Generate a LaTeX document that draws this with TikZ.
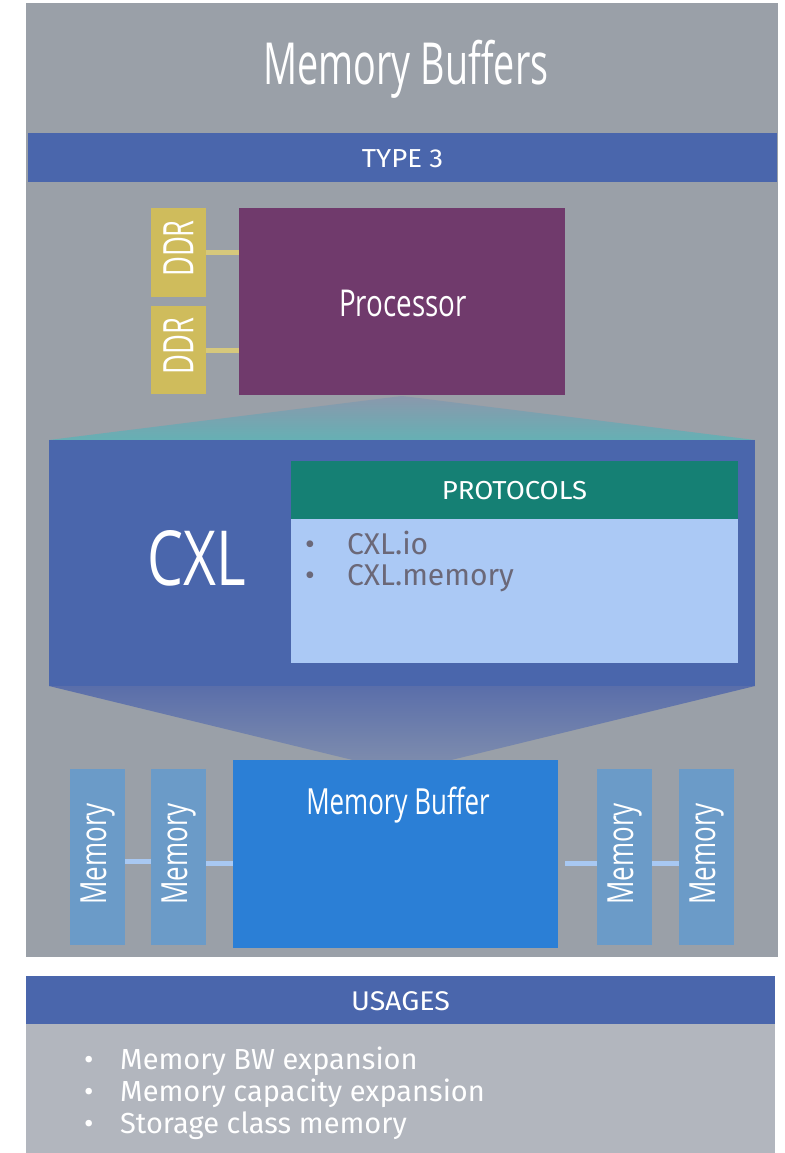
\documentclass[tikz,border=0pt]{standalone}
\usepackage{fontspec}
\setmainfont{Fira Sans}
\newfontfamily\din{Fira Sans}
\newfontfamily\dinw[FakeStretch=1.06]{Fira Sans}
\newfontfamily\cond[FakeStretch=0.65]{Open Sans}
\newfontfamily\condm[FakeStretch=0.72]{Open Sans}
\newfontfamily\condw[FakeStretch=0.75]{Open Sans}
\usetikzlibrary{positioning}
\definecolor{panel}{HTML}{9AA0A8}
\definecolor{barblue}{HTML}{4A66AC}
\definecolor{ddr}{HTML}{CFBC5C}
\definecolor{ddrline}{HTML}{D6C87C}
\definecolor{proc}{HTML}{703A6C}
\definecolor{protohead}{HTML}{158074}
\definecolor{protobody}{HTML}{ABC9F5}
\definecolor{prototext}{HTML}{6B6878}
\definecolor{membuf}{HTML}{2B7FD6}
\definecolor{memstick}{HTML}{6B9BC8}
\definecolor{memline}{HTML}{A8C8F2}
\definecolor{usebody}{HTML}{B2B6BE}
\definecolor{teal}{HTML}{66B0B4}
\definecolor{funtop}{HTML}{8A98AC}
\definecolor{funblue}{HTML}{5A6EAA}
\definecolor{funbot}{HTML}{8290AE}
\tikzset{
  blk/.style={anchor=north west, inner sep=0pt, outer sep=0pt, minimum width=#1},
  ht/.style={minimum height=#1},
  wlab/.style={text=white, inner sep=0pt},
  link/.style={line width=5pt},
}
\begin{document}
\begin{tikzpicture}[x=1pt,y=-1pt]
\useasboundingbox (0,0) rectangle (784,1153);
\fill[white] (0,0) rectangle (784,1153);
% main panel
\node[blk=752, ht=954, fill=panel] (panel) at (26,3) {};
\node[wlab, font=\cond\fontsize{58}{62}\selectfont] (title) at (406,69) {Memory Buffers};
\node[blk=749, ht=49, fill=barblue] (type) at (28,133) {};
\node[wlab, font=\dinw\fontsize{26}{28}\selectfont] at ([yshift=-1pt]type.center) {TYPE 3};
% processor and DDR
\node[blk=326, ht=187, fill=proc] (proc) at (239,208) {};
\node[wlab, font=\condw\fontsize{37}{40}\selectfont] at (403,303) {Processor};
\node[blk=55, ht=89, fill=ddr] (ddr1) at (151,208) {};
\node[blk=55, ht=88, fill=ddr] (ddr2) at (151,306) {};
\node[wlab, rotate=90, font=\cond\fontsize{42}{46}\selectfont] at ([yshift=4pt]ddr1.center) {DDR};
\node[wlab, rotate=90, font=\cond\fontsize{42}{46}\selectfont] at ([yshift=4pt]ddr2.center) {DDR};
\coordinate (d1) at (206,252);
\coordinate (d2) at (206,350);
\draw[ddrline, link] (d1) -- (d1 -| proc.west);
\draw[ddrline, link] (d2) -- (d2 -| proc.west);
% top funnel
\coordinate (apex1) at (402,396);
\shade[top color=funtop, bottom color=teal] (apex1) -- (755,440) -- (49,440) -- cycle;
% CXL box
\node[blk=706, ht=246, fill=barblue] (cxl) at (49,440) {};
\node[wlab, font=\condw\fontsize{76}{80}\selectfont] at (197,558) {CXL};
\node[blk=447, ht=58, fill=protohead] (phead) at (291,461) {};
\node[wlab, font=\dinw\fontsize{26}{28}\selectfont] at ([yshift=-1pt]phead.center) {PROTOCOLS};
\node[blk=447, ht=144, fill=protobody] (pbody) at (291,519) {};
\node[anchor=west, inner sep=0pt, text=prototext, font=\din\fontsize{30}{31}\selectfont, align=left] (plist) at (305,561)
  {\makebox[42pt][l]{\textbullet}CXL.io\\\makebox[42pt][l]{\textbullet}CXL.memory};
% bottom funnel
\coordinate (apex2) at (402,772);
\shade[top color=funblue, bottom color=funbot] (49,686) -- (755,686) -- (apex2) -- cycle;
% memory buffer
\node[blk=325, ht=188, fill=membuf] (mb) at (233,760) {};
\node[wlab, font=\condm\fontsize{36}{40}\selectfont] at (398,805) {Memory Buffer};
\foreach \n/\x in {m1/70, m2/151, m3/597, m4/679} {
  \node[blk=55, ht=176, fill=memstick] (\n) at (\x,769) {};
  \node[wlab, rotate=90, font=\condm\fontsize{36}{42}\selectfont] at ([yshift=3pt]\n.center) {Memory};
}
\coordinate (c1) at (125,861);
\coordinate (c2) at (206,863);
\coordinate (c3) at (565,863);
\coordinate (c4) at (652,863);
\draw[memline, link] (c1) -- (c1 -| m2.west);
\draw[memline, link] (c2) -- (c2 -| mb.west);
\draw[memline, link] (c3) -- (c3 -| m3.west);
\draw[memline, link] (c4) -- (c4 -| m4.west);
% usages
\node[blk=749, ht=48, fill=barblue] (uhead) at (26,976) {};
\node[wlab, font=\dinw\fontsize{27}{28}\selectfont] at ([yshift=-1pt]uhead.center) {USAGES};
\node[blk=749, ht=129, fill=usebody] (ubody) at (26,1024) {};
\node[anchor=west, inner sep=0pt, text=white, font=\din\fontsize{29}{32}\selectfont, align=left] (ulist) at (84,1093)
  {\makebox[36pt][l]{\textbullet}Memory BW expansion\\\makebox[36pt][l]{\textbullet}Memory capacity expansion\\\makebox[36pt][l]{\textbullet}Storage class memory};
\end{tikzpicture}
\end{document}
